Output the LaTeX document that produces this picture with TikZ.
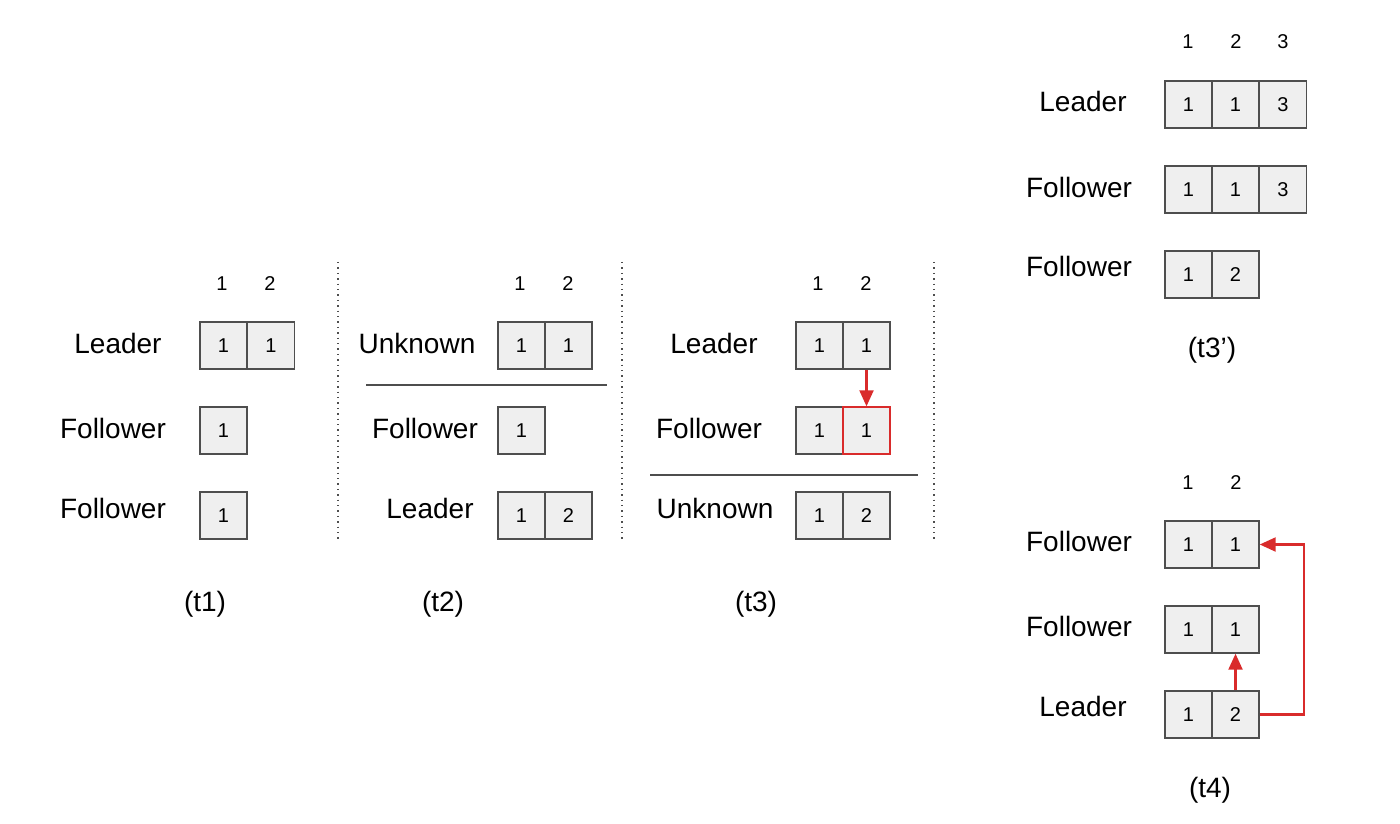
\documentclass[tikz,border=0pt]{standalone}
\usepackage{fontspec}
\setmainfont{Liberation Sans}
\usetikzlibrary{arrows.meta}
\definecolor{cellgray}{RGB}{239,239,239}
\definecolor{edge}{RGB}{78,78,78}
\definecolor{arrowred}{RGB}{217,43,43}

\begin{document}
\begin{tikzpicture}
        [x=0.5pt,y=-0.5pt,
         cell/.style={draw=edge,fill=cellgray,line width=0.7pt,minimum size=23.5pt,inner sep=0pt,font=\fontsize{10}{12}\selectfont},
         hot/.style={cell,draw=arrowred},
         idx/.style={font=\fontsize{10}{12}\selectfont},
         role/.style={font=\fontsize{14}{16}\selectfont},
         tag/.style={font=\fontsize{14}{16}\selectfont},
         rule/.style={draw=edge,line width=0.6pt},
         dots/.style={draw=edge,dotted,line width=0.7pt},
         upd/.style={draw=arrowred,line width=1.1pt,-{Triangle[length=8pt,width=7pt]}}]
        \useasboundingbox (0,0) rectangle (1400,823);

        % column numbers
        \foreach \n/\x/\y/\v in {h1a/222/284/1, h1b/270/284/2, h2a/520/284/1, h2b/568/284/2,
                                 h3a/818/284/1, h3b/866/284/2, hpa/1188/42/1, hpb/1236/42/2,
                                 hpc/1283/42/3, h4a/1188/483/1, h4b/1236/483/2}
            \node[idx] (\n) at (\x,\y) {\v};

        % logs
        \foreach \n/\x/\y/\v in {t1a1/223.5/345.5/1, t1a2/271/345.5/1, t1b1/223.5/430.5/1, t1c1/223.5/515.5/1,
                                 t2a1/521.5/345.5/1, t2a2/568.5/345.5/1, t2b1/521.5/430.5/1,
                                 t2c1/521.5/515.5/1, t2c2/568.5/515.5/2,
                                 t3a1/819.5/345.5/1, t3a2/866.5/345.5/1, t3b1/819.5/430.5/1,
                                 t3c1/819.5/515.5/1, t3c2/866.5/515.5/2,
                                 tpa1/1188.5/104.5/1, tpa2/1235.5/104.5/1, tpa3/1283/104.5/3,
                                 tpb1/1188.5/189.5/1, tpb2/1235.5/189.5/1, tpb3/1283/189.5/3,
                                 tpc1/1188.5/274.5/1, tpc2/1235.5/274.5/2,
                                 t4a1/1188.5/544.5/1, t4a2/1235.5/544.5/1, t4b1/1188.5/629.5/1,
                                 t4b2/1235.5/629.5/1, t4c1/1188.5/714.5/1, t4c2/1235.5/714.5/2}
            \node[cell] (\n) at (\x,\y) {\v};
        \node[hot] (t3b2) at (866.5,430.5) {1};

        % roles
        \node[role] (r1a) at (118,343) {Leader};
        \node[role] (r1b) at (113,428) {Follower};
        \node[role] (r1c) at (113,508) {Follower};
        \node[role] (r2a) at (417,343) {Unknown};
        \node[role] (r2b) at (425,428) {Follower};
        \node[role] (r2c) at (430,508) {Leader};
        \node[role] (r3a) at (714,343) {Leader};
        \node[role] (r3b) at (709,428) {Follower};
        \node[role] (r3c) at (715,508) {Unknown};
        \node[role] (rpa) at (1083,101) {Leader};
        \node[role] (rpb) at (1079,187) {Follower};
        \node[role] (rpc) at (1079,266) {Follower};
        \node[role] (r4a) at (1079,541) {Follower};
        \node[role] (r4b) at (1079,626) {Follower};
        \node[role] (r4c) at (1083,706) {Leader};

        \node[tag] (g1) at (205,604) {(t1)};
        \node[tag] (g2) at (443,604) {(t2)};
        \node[tag] (g3) at (756,604) {(t3)};
        \node[tag] (gp) at (1212,350) {(t3’)};
        \node[tag] (g4) at (1210,790) {(t4)};

        % separators
        \coordinate (d1t) at (338,262); \coordinate (d1b) at (338,541);
        \coordinate (d2t) at (622,262); \coordinate (d2b) at (622,541);
        \coordinate (d3t) at (934,262); \coordinate (d3b) at (934,541);
        \foreach \from/\to in {d1t/d1b, d2t/d2b, d3t/d3b}
            \draw[dots] (\from) -- (\to);
        \coordinate (s2l) at (366,385); \coordinate (s2r) at (607,385);
        \coordinate (s3l) at (650,475); \coordinate (s3r) at (918,475);
        \draw[rule] (s2l) -- (s2r);
        \draw[rule] (s3l) -- (s3r);

        % replication
        \coordinate (turn) at (1304,544.5);
        \draw[upd] (t3a2) -- (t3b2);
        \draw[upd] (t4c2) -- (t4b2);
        \draw[upd] (t4c2.east) -| (turn) -- (t4a2.east);

      \end{tikzpicture}
\end{document}
